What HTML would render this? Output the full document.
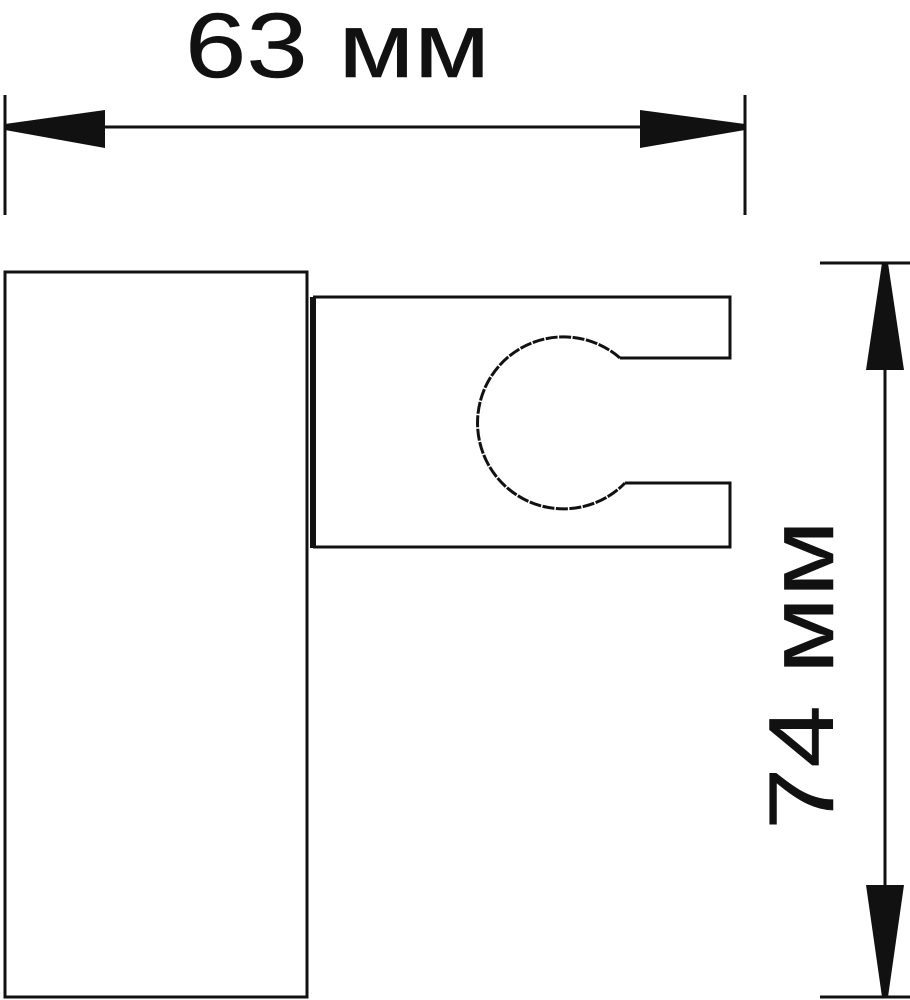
<!DOCTYPE html>
<html><head><meta charset="utf-8"><style>
html,body{margin:0;padding:0;background:#fff;}
svg{display:block;}
</style></head><body>
<svg width="910" height="1000" viewBox="0 0 910 1000" xmlns="http://www.w3.org/2000/svg">
<g stroke="#111" fill="none" stroke-width="3">
  <line x1="5" y1="95" x2="5" y2="215"/>
  <line x1="745" y1="95" x2="745" y2="215"/>
  <line x1="5" y1="127" x2="745" y2="127"/>
  <line x1="820" y1="263" x2="910" y2="263"/>
  <line x1="820" y1="997" x2="910" y2="997"/>
  <line x1="885" y1="263" x2="885" y2="997"/>
  <rect x="5" y="272" width="302" height="725"/>
  <path d="M313 297 H730 V358 H620 M625 483 H730 V547 H313"/>
  <path d="M620 358 A86 86 0 1 0 625 483" stroke-dasharray="12 1.5"/>
</g>
<line x1="313" y1="297" x2="313" y2="548" stroke="#111" stroke-width="6"/>
<g fill="#111">
  <polygon points="5,124 105,110 105,148 5,130"/>
  <polygon points="745,124 640,110 640,148 745,130"/>
  <polygon points="882,263 866,370 904,370 888,263"/>
  <polygon points="882,997 866,885 904,885 888,997"/>
</g>
<text x="185" y="77" textLength="305" lengthAdjust="spacingAndGlyphs" font-family="Liberation Sans, sans-serif" font-size="92" fill="#111" stroke="#111" stroke-width="0.5">63 мм</text>
<text transform="translate(833,830) rotate(-90)" textLength="310" lengthAdjust="spacingAndGlyphs" font-family="Liberation Sans, sans-serif" font-size="92" fill="#111" stroke="#111" stroke-width="0.5">74 мм</text>
</svg>
</body></html>
